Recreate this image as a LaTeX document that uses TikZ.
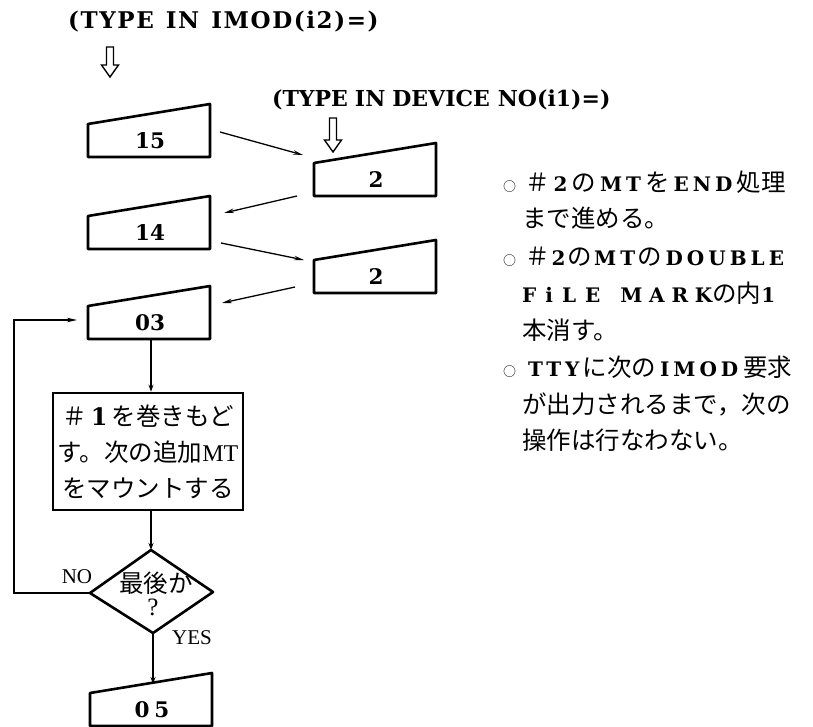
\documentclass[tikz,border=0pt]{standalone}
\usepackage{fontspec}
\setmainfont{Liberation Serif}
\newfontfamily\jf{Noto Sans CJK JP}
\newfontfamily\dvs{DejaVu Serif}
\newfontfamily\tA[LetterSpace=7]{DejaVu Serif}
\newfontfamily\tB[LetterSpace=0]{DejaVu Serif}
\newfontfamily\rl[LetterSpace=20]{DejaVu Serif}
\newfontfamily\rlw[LetterSpace=45]{DejaVu Serif}
\newfontfamily\rlm[LetterSpace=34]{DejaVu Serif}
\usetikzlibrary{arrows.meta,calc}
\newcommand\J[1]{{\fontsize{24.5}{24.5}\selectfont\jf #1}}
\newcommand\Lt[1]{{\fontsize{20}{20}\selectfont\rl\bfseries #1}}
\newcommand\Lw[1]{{\fontsize{20}{20}\selectfont\rlw\bfseries #1}}
\newcommand\Lm[1]{{\fontsize{20}{20}\selectfont\rlm\bfseries #1}}
\newcommand\bul{{\fontsize{13}{13}\selectfont\jf ○}\hspace{9pt}}
\newcommand\manbox[4]{%
  \draw[boxline] (#2,#3) -- (#2,#3-33) -- (#2+122,#3-53) -- (#2+122,#3) -- cycle;
  \node[lab] (#1) at (#2+62,#3-16) {#4};}
\newcommand\hollow[3]{% x, top y, tip y
  \draw[line width=1.4pt, line join=miter]
    (#1-3.5,#2) -- (#1+3.5,#2) -- (#1+3.5,#3-12) -- (#1+8.5,#3-12) -- (#1,#3)
    -- (#1-8.5,#3-12) -- (#1-3.5,#3-12) -- cycle;}
\begin{document}
\begin{tikzpicture}[x=1pt,y=-1pt,
  boxline/.style={line width=2.6pt, line join=round},
  lab/.style={font=\fontsize{21.5}{21.5}\selectfont\dvs\bfseries, inner sep=0pt},
  conn/.style={line width=1.6pt},
  arr/.style={line width=1.3pt, -{Stealth[length=10pt,width=4.5pt]}},
  varr/.style={line width=1.6pt, -{Stealth[length=7pt,width=5pt]}},
  jtxt/.style={anchor=west, inner sep=0pt},
  yn/.style={font=\fontsize{21}{21}\selectfont, inner sep=0pt},
  ]
\useasboundingbox (0,0) rectangle (813,727);

% titles
\node[font=\fontsize{23}{23}\selectfont, inner sep=0pt, anchor=west] (t1) at (68,22)
  {\tA\bfseries (TYPE\hspace{12pt}IN\hspace{12pt}IMOD(i2)=)};
\node[font=\fontsize{22}{22}\selectfont, inner sep=0pt, anchor=west] (t2) at (272,100)
  {\tB\bfseries (TYPE\hspace{7pt}IN\hspace{7pt}DEVICE\hspace{8pt}NO(i1)=)};
\hollow{110}{47}{77}
\hollow{333}{118}{152}

% boxes
\manbox{b15}{88}{157}{15}
\manbox{b2a}{314}{196}{2}
\manbox{b14}{88}{249}{14}
\manbox{b2b}{314}{293}{2}
\manbox{b03}{88}{339}{03}
\manbox{b05}{90}{726}{0\hspace{5pt}5}

% zigzag arrows
\coordinate (s1) at (220,132); \coordinate (e1) at (303,155);
\coordinate (s2) at (297,196); \coordinate (e2) at (224,213);
\coordinate (s3) at (221,243); \coordinate (e3) at (304,260);
\coordinate (s4) at (295,287); \coordinate (e4) at (222,303);
\draw[arr] (s1) -- (e1);
\draw[arr] (s2) -- (e2);
\draw[arr] (s3) -- (e3);
\draw[arr] (s4) -- (e4);

% process box
\node[draw, line width=2.6pt, minimum width=190pt, minimum height=117pt, inner sep=0pt,
      font=\fontsize{24}{36}\selectfont, align=center] (proc) at (148,451.5)
  {\J{＃}\,{\dvs\bfseries 1}\,\J{を巻きもど}\\ \J{す。次の追加}MT\\ \J{をマウントする}};

% decision
\coordinate (dT) at (151,550);
\coordinate (dL) at (90,593);
\coordinate (dR) at (213,592);
\coordinate (dB) at (153,633);
\draw[line width=2.6pt, line join=round] (dT) -- (dR) -- (dB) -- (dL) -- cycle;
\node[inner sep=0pt] (dq1) at (156,583) {\J{最後か}};
\node[font=\fontsize{25}{25}\selectfont, inner sep=0pt] (dq2) at (153,607) {?};
\node[yn] (no) at (77,577) {NO};
\node[yn] (yes) at (192,638) {YES};

% vertical connectors
\draw[varr] (151,339) -- (proc.north -| 151,0);
\draw[varr] (proc.south -| 151,0) -- (dT);
\draw[varr] (dB) -- (153,684);

% loop
\coordinate (lp1) at (14,593);
\coordinate (lp2) at (14,320);
\coordinate (lp3) at (77,320);
\draw[conn] (dL) -- (lp1) -- (lp2) -- (40,320);
\draw[arr] (40,320) -- (lp3);

% right notes
\node[jtxt] (n1) at (503,182) {\bul\J{＃}\hspace{4pt}\Lt{2}\hspace{4pt}\J{の}\hspace{4pt}\Lt{MT}\hspace{4pt}\J{を}\hspace{4pt}\Lt{END}\hspace{4pt}\J{処理}};
\node[jtxt] (n2) at (522,218) {\J{まで進める。}};
\node[jtxt] (n3) at (503,257) {\bul\J{＃}\hspace{2pt}\Lt{2}\hspace{2pt}\J{の}\hspace{2pt}\Lt{MT}\hspace{2pt}\J{の}\hspace{4pt}\Lt{DOUBLE}};
\node[jtxt] (n4) at (522,293) {\Lw{FiLE}\hspace{20pt}\Lm{MARK}\J{の内}\Lt{1}};
\node[jtxt] (n5) at (522,330) {\J{本消す。}};
\node[jtxt] (n6) at (503,367) {\bul\hspace{3pt}\Lt{TTY}\hspace{3pt}\J{に次の}\hspace{4pt}\Lt{IMOD}\hspace{5pt}\J{要求}};
\node[jtxt] (n7) at (522,404) {\J{が出力されるまで，次の}};
\node[jtxt] (n8) at (522,440) {\J{操作は行なわない。}};
\end{tikzpicture}
\end{document}
